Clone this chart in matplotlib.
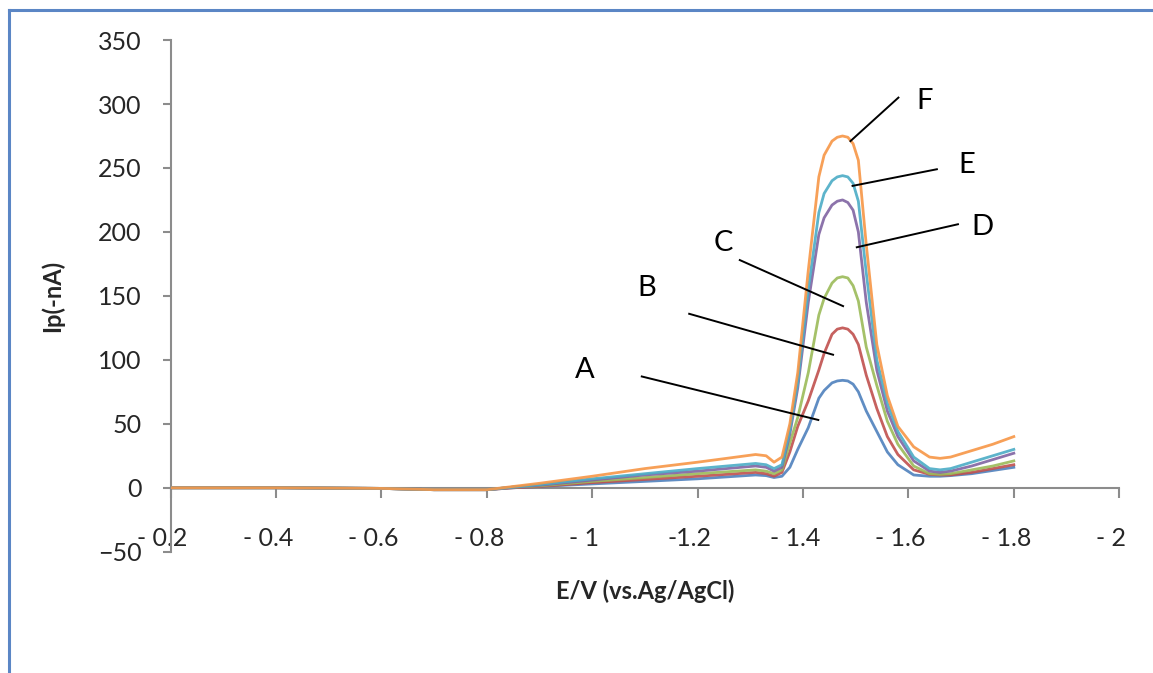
"""
Voltammograms A-F: peak current vs potential (E/V vs. Ag/AgCl).
"""
import numpy as np
import matplotlib as mpl
mpl.use("Agg")
import matplotlib.pyplot as plt
import matplotlib.transforms as mtransforms
from matplotlib.lines import Line2D

# Data (potential shown as magnitude, labelled "- x")
# ----------------------------------------------------------------------
potential = [0.2, 0.4, 0.6, 0.7, 0.8, 0.85, 0.9, 1.0, 1.1, 1.2,
             1.31, 1.33, 1.345, 1.36, 1.375, 1.39, 1.41, 1.43, 1.44, 1.455,
             1.465, 1.475, 1.485, 1.495, 1.505, 1.52, 1.54, 1.56, 1.58, 1.61,
             1.64, 1.66, 1.68, 1.72, 1.76, 1.8]

curve_a = [0, 0, -0.5, -1.5, -1.5, 0, 1, 3, 5, 7,
           10, 9.5, 8, 9, 16, 30, 47, 70, 76, 82,
           83.5, 84, 83.5, 81, 75, 60, 44, 28, 18, 10,
           9, 9, 9.5, 11, 13.5, 16]
curve_b = [0, 0, -0.5, -1.5, -1.5, 0, 1, 4, 6.5, 9,
           12, 11, 9, 12, 28, 48, 68, 92, 105, 120,
           124, 125, 124, 120, 112, 88, 62, 40, 26, 14,
           10.5, 10, 10, 12, 15, 18]
curve_c = [0, 0, -0.5, -1.5, -1.5, 0.5, 1.5, 5, 8, 11,
           14, 13, 11, 14, 35, 55, 90, 135, 148, 160,
           164, 165, 164, 158, 146, 110, 80, 52, 34, 17,
           11, 10.5, 11, 14, 17, 21]
curve_d = [0, 0, -0.5, -1.5, -1.5, 0.5, 2, 6, 10, 13,
           17, 16, 13, 16, 42, 78, 145, 198, 211, 221,
           224, 225, 223, 217, 200, 145, 92, 60, 40, 21,
           13, 12, 13, 17, 22, 27]
curve_e = [0, 0, -0.5, -1.5, -1.5, 0.5, 2.5, 7, 11, 15,
           19, 18, 15, 18, 45, 82, 155, 215, 230, 240,
           243, 244, 243, 238, 224, 168, 100, 66, 44, 24,
           15, 14, 15, 20, 25, 30]
curve_f = [0, 0, -0.5, -1.5, -1.5, 1, 3.5, 9, 15, 20,
           26, 25, 20, 24, 50, 90, 170, 243, 260, 271,
           274, 275, 274, 269, 256, 190, 112, 72, 48, 32,
           24, 23, 24, 29, 34, 40]

curve_names = ["A", "B", "C", "D", "E", "F"]
x_ticks = [0.2, 0.4, 0.6, 0.8, 1.0, 1.2, 1.4, 1.6, 1.8, 2.0]
x_tick_labels = ["- 0.2", "- 0.4", "- 0.6", "- 0.8", "- 1", "-1.2",
                 "- 1.4", "- 1.6", "- 1.8", "- 2"]
y_ticks = [-50, 0, 50, 100, 150, 200, 250, 300, 350]
# ----------------------------------------------------------------------

# Style
COLORS = ["#4F81BD", "#C0504D", "#9BBB59", "#8064A2", "#4BACC6", "#F79646"]
AXIS_GRAY = "#8C8C8C"
TEXT_COLOR = "#262626"
FONT = "Lato"
# label text position / pointer start / pointer end (data coords)
LABEL_POS = [(0.986, 92), (1.104, 156), (1.249, 191), (1.741, 204), (1.710, 252), (1.631, 302)]
POINTER_START = [(1.094, 87), (1.184, 136), (1.280, 178), (1.694, 206), (1.654, 249), (1.581, 305)]
POINTER_END = [(1.429, 53), (1.457, 104), (1.476, 142), (1.502, 188), (1.494, 236), (1.490, 271)]

mpl.rcParams.update({"font.family": [FONT, "DejaVu Sans"], "font.size": 18})

fig = plt.figure(figsize=(11.53, 6.73), dpi=100)
ax = fig.add_axes([0.1480, 0.1802, 0.8227, 0.7603])

curves = [curve_a, curve_b, curve_c, curve_d, curve_e, curve_f]
for values, color in zip(curves, COLORS):
    ax.plot(potential, values, color=color, linewidth=2.0, alpha=0.9,
            solid_joinstyle="round", zorder=3)

for name, lpos, p0, p1 in zip(curve_names, LABEL_POS, POINTER_START, POINTER_END):
    ax.plot([p0[0], p1[0]], [p0[1], p1[1]], color="black", linewidth=1.4, zorder=4)
    ax.text(lpos[0], lpos[1], name, fontsize=21, color="black",
            ha="center", va="center")

ax.set_xlim(0.2, 2.0)
ax.set_ylim(-50, 350)
for side in ["top", "right"]:
    ax.spines[side].set_visible(False)
ax.spines["bottom"].set_position(("data", 0))
for side in ["left", "bottom"]:
    ax.spines[side].set_color(AXIS_GRAY)
    ax.spines[side].set_linewidth(1.5)

ax.set_xticks(x_ticks)
ax.set_xticklabels(x_tick_labels)
ax.set_yticks(y_ticks)
ax.tick_params(axis="x", direction="out", length=7, width=1.5, color=AXIS_GRAY,
               pad=21, labelsize=18, labelcolor=TEXT_COLOR)
ax.tick_params(axis="y", direction="out", length=6, width=1.5, color=AXIS_GRAY,
               pad=15, labelsize=18, labelcolor=TEXT_COLOR)
shift = mtransforms.ScaledTranslation(-8 / 100, 0, fig.dpi_scale_trans)
for lab in ax.get_xticklabels():
    lab.set_transform(lab.get_transform() + shift)

ax.set_xlabel("E/V (vs.Ag/AgCl)", fontsize=17, fontweight="bold", color=TEXT_COLOR)
ax.xaxis.set_label_coords(0.5, -0.055)
ax.set_ylabel("Ip(-nA)", fontsize=17, fontweight="bold", color=TEXT_COLOR,
              va="center")
ax.yaxis.set_label_coords(-0.125, 0.5)

# blue frame round the picture (left and top edges show)
fig.add_artist(Line2D([8.5 / 1153, 8.5 / 1153], [0, 1 - 10 / 673],
                      color="#5B86C5", linewidth=2.2))
fig.add_artist(Line2D([8.5 / 1153, 1], [1 - 10 / 673, 1 - 10 / 673],
                      color="#5B86C5", linewidth=2.2))

fig.savefig("out.png", dpi=100)
